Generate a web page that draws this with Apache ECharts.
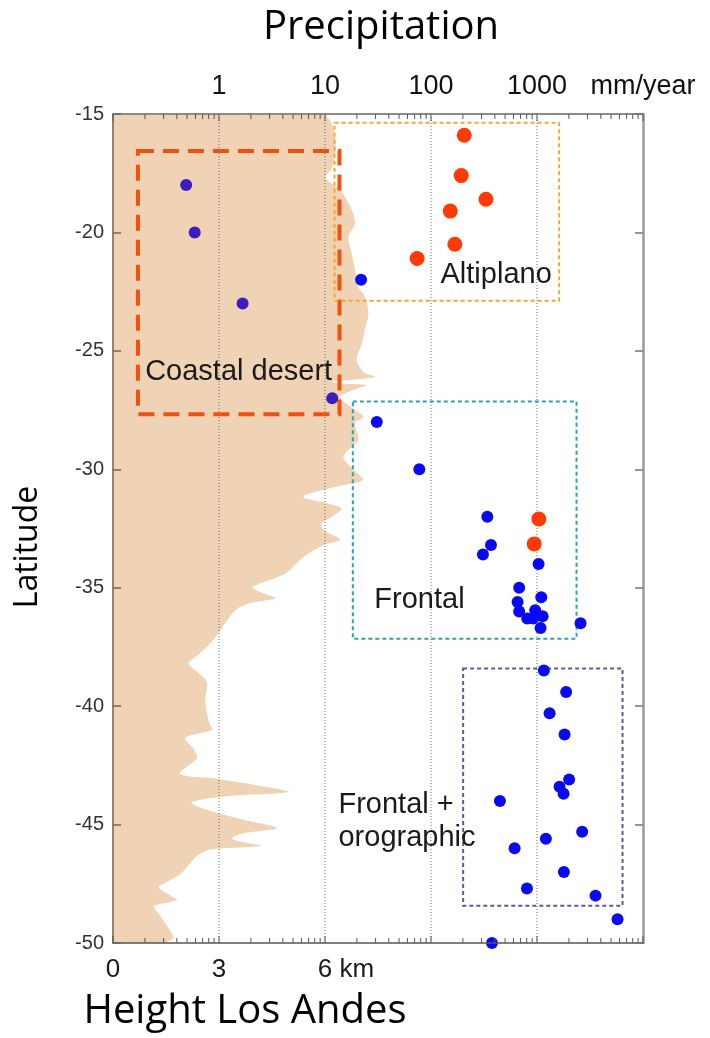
<!DOCTYPE html>
<html>
<head>
<meta charset="utf-8">
<script src="https://cdn.jsdelivr.net/npm/echarts@6/dist/echarts.min.js"></script>
<style>
  html, body { margin: 0; padding: 0; background: #ffffff; }
  #chart { width: 710px; height: 1038px; }
</style>
</head>
<body>
<div id="chart"></div>
<script>
// Crest height of the Andes (km) against latitude (deg)
const andesLat = [
  -15.0, -15.4, -16.0, -16.7, -17.3, -17.55, -17.7, -17.9, -18.2, -18.9,
  -19.6, -20.2, -20.9, -21.6, -22.3, -22.7, -23.4, -24.1, -24.7, -25.4,
  -25.9, -26.09, -26.2, -26.3, -26.38, -26.45, -26.6, -26.95, -27.35, -27.78,
  -28.05, -28.75, -29.47, -30.0, -30.45, -30.7, -31.15, -31.45, -31.66, -32.0,
  -32.3, -32.6, -32.98, -33.2, -33.7, -34.4, -34.85, -35.0, -35.2, -35.45,
  -35.65, -35.9, -36.45, -36.95, -37.5, -37.9, -38.2, -38.6, -39.0, -39.7,
  -40.3, -40.8, -41.0, -41.35, -41.8, -42.2, -42.85, -43.05, -43.4, -43.62,
  -43.8, -44.05, -44.3, -44.8, -45.15, -45.4, -45.6, -45.75, -45.9, -46.05,
  -46.3, -46.7, -47.1, -47.45, -47.65, -48.0, -48.18, -48.45, -48.85, -49.4,
  -49.8, -50.0
];
const andesKm = [
  6.03, 6.19, 6.29, 6.29, 6.19, 6.05, 6.02, 6.15, 6.43, 6.71,
  6.85, 6.66, 6.76, 6.85, 6.94, 7.13, 7.23, 7.13, 7.04, 6.9,
  7.1, 7.42, 6.95, 6.2, 6.5, 7.18, 6.9, 6.43, 6.71, 7.09,
  6.85, 6.94, 6.52, 6.8, 7.07, 6.43, 5.39, 6.1, 6.47, 6.2,
  5.89, 6.0, 6.43, 5.96, 5.39, 4.88, 4.1, 3.95, 4.2, 4.6,
  3.9, 3.5, 3.2, 2.97, 2.66, 2.35, 2.14, 2.42, 2.66, 2.61,
  2.66, 2.75, 2.82, 2.04, 2.28, 2.37, 1.9, 2.9, 4.3, 4.97,
  3.2, 2.23, 2.5, 3.7, 4.64, 3.6, 3.37, 3.7, 4.17, 2.75,
  2.4, 2.15, 1.9, 1.5, 1.3, 1.62, 1.81, 1.17, 1.34, 1.58,
  1.71, 1.5
];

// Station precipitation (mm/year) and latitude
const desertStations = [[0.49, -18.0], [0.59, -20.0], [1.67, -23.0], [11.7, -27.0]];
const blueStations = [
  [21.9, -22.0], [30.8, -28.0], [77.6, -30.0], [340, -32.0], [368, -33.2],
  [309, -33.6], [1035, -34.0], [679, -35.0], [1097, -35.4], [656, -35.6],
  [679, -36.0], [962, -35.95], [809, -36.3], [921, -36.3], [1130, -36.2],
  [1081, -36.7], [2576, -36.5],
  [1161, -38.5], [1883, -39.4], [1315, -40.3], [1820, -41.2], [2010, -43.1],
  [1633, -43.4], [1782, -43.7], [447, -44.0], [2667, -45.3], [1213, -45.6],
  [615, -46.0], [1794, -47.0], [804, -47.7], [3565, -48.0], [5754, -49.0],
  [376, -50.0]
];
const redStations = [
  [206, -15.9], [193, -17.6], [330, -18.6], [152, -19.1], [168, -20.5],
  [74, -21.1], [1042, -32.1], [942, -33.15]
];

// Climate regions: [precip left, precip right, lat top, lat bottom]
const desertBox = [0.172, 13.7, -16.56, -27.68];
const altiplanoBox = [12.3, 1618, -15.37, -22.88];
const frontalBox = [18.3, 2360, -27.14, -37.15];
const orographicBox = [201, 6412, -38.41, -48.43];

// Region names and their anchor (precip, lat)
const regionNames = ['Coastal desert', 'Altiplano', 'Frontal', 'Frontal +', 'orographic'];
const regionAnchors = [[0.201, -25.89], [123, -21.78], [29.2, -35.5], [13.4, -44.17], [13.4, -45.56]];

// Axis ticks
const decades = [0.1, 1, 10, 100, 1000, 10000];
const minorSteps = [2, 3, 4, 5, 6, 7, 8, 9];
const topLabels = { 0: '1', 1: '10', 2: '100', 3: '1000', 4: 'mm/year' };
const kmLabels = { 0: '0', 3: '3', 6: '{g| km}6 km' };

const tickValues = [];
decades.forEach(d => {
  tickValues.push([d, 1]);
  if (d < 10000) minorSteps.forEach(m => tickValues.push([d * m, 0]));
});

const chart = echarts.init(document.getElementById('chart'), null, { renderer: 'canvas' });

function boxSeries(box, stroke, width, dash, z) {
  return {
    type: 'custom', xAxisIndex: 0, yAxisIndex: 0, z: z, silent: true,
    data: [box],
    renderItem: function (params, api) {
      const p1 = api.coord([api.value(0), api.value(2)]);
      const p2 = api.coord([api.value(1), api.value(3)]);
      return {
        type: 'rect',
        shape: { x: p1[0], y: p1[1], width: p2[0] - p1[0], height: p2[1] - p1[1] },
        style: { fill: 'none', stroke: stroke, lineWidth: width, lineDash: dash }
      };
    }
  };
}

const option = {
  animation: false,
  backgroundColor: '#ffffff',
  grid: { left: 113, right: 67, top: 114, bottom: 95, containLabel: false },
  xAxis: [
    {
      type: 'log', logBase: 10, min: 0.1, max: 10000, position: 'top', z: 10,
      axisLine: { show: true, lineStyle: { color: '#8c8c8c', width: 2 } },
      axisTick: { show: false },
      splitLine: { show: false },
      axisLabel: {
        show: true, margin: 14, color: '#111',
        fontFamily: '"Liberation Sans", Arial, sans-serif', fontSize: 27,
        showMinLabel: true, showMaxLabel: true,
        formatter: v => topLabels[Math.round(Math.log10(v))] || ''
      }
    },
    {
      type: 'value', min: 0, max: 15, interval: 3, position: 'bottom', z: 10,
      axisLine: { show: true, lineStyle: { color: '#555', width: 1.5 } },
      axisTick: { show: false },
      splitLine: { show: false },
      axisLabel: {
        show: true, margin: 14, color: '#1a1a1a',
        fontFamily: '"Liberation Sans", Arial, sans-serif', fontSize: 26,
        formatter: v => kmLabels[Math.round(v)] || '',
        rich: { g: { color: 'rgba(0,0,0,0)', fontFamily: '"Liberation Sans", Arial, sans-serif', fontSize: 26 } }
      }
    }
  ],
  yAxis: [
    {
      type: 'value', min: -50, max: -15, interval: 5, position: 'left', z: 10,
      axisLine: { show: true, lineStyle: { color: '#7a5e48', width: 1.5 } },
      axisTick: { show: true, inside: true, length: 8, lineStyle: { color: '#666', width: 1.5 } },
      splitLine: { show: false },
      axisLabel: { margin: 9, color: '#333', fontFamily: '"Liberation Sans", Arial, sans-serif', fontSize: 20 }
    },
    {
      type: 'value', min: -50, max: -15, interval: 5, position: 'right', z: 10,
      axisLine: { show: true, lineStyle: { color: '#9a9a9a', width: 2.5 } },
      axisTick: { show: true, inside: true, length: 8, lineStyle: { color: '#777', width: 1.5 } },
      splitLine: { show: false },
      axisLabel: { show: false }
    }
  ],
  graphic: [
    {
      type: 'text', x: 381, y: 28, z: 20,
      style: { text: 'Precipitation', fill: '#000', font: '40px "Open Sans", sans-serif',
        align: 'center', verticalAlign: 'middle', textAlign: 'center', textVerticalAlign: 'middle' }
    },
    {
      type: 'text', x: 245, y: 1012, z: 20,
      style: { text: 'Height Los Andes', fill: '#000', font: '40px "Open Sans", sans-serif',
        align: 'center', verticalAlign: 'middle', textAlign: 'center', textVerticalAlign: 'middle' }
    },
    {
      type: 'text', x: 28, y: 547, rotation: Math.PI / 2, z: 20,
      style: { text: 'Latitude', fill: '#000', font: '32px "Open Sans", sans-serif',
        align: 'center', verticalAlign: 'middle', textAlign: 'center', textVerticalAlign: 'middle' }
    }
  ],
  series: [
    // Andes height profile (filled, smoothed outline)
    {
      type: 'custom', xAxisIndex: 1, yAxisIndex: 0, z: 1, silent: true, clip: true,
      data: [[0, -15]],
      renderItem: function (params, api) {
        const n = andesLat.length;
        const pts = [api.coord([andesKm[0], -14])];
        andesLat.forEach((lat, i) => pts.push(api.coord([andesKm[i], lat])));
        pts.push(api.coord([andesKm[n - 1], -51]));
        pts.push(api.coord([-2, -51]));
        pts.push(api.coord([-2, -14]));
        return { type: 'polygon', shape: { points: pts, smooth: 0.3 }, style: { fill: '#f0d2b4', stroke: 'none' } };
      }
    },
    // Decade grid lines
    {
      type: 'custom', xAxisIndex: 0, yAxisIndex: 0, z: 2, silent: true,
      data: [1, 10, 100, 1000].map(v => [v]),
      renderItem: function (params, api) {
        const a = api.coord([api.value(0), -15]);
        const b = api.coord([api.value(0), -50]);
        return { type: 'line', shape: { x1: a[0], y1: a[1], x2: b[0], y2: b[1] },
          style: { stroke: '#6a6a6a', lineWidth: 1, lineDash: [1, 2] } };
      }
    },
    // Log ticks on top and bottom frame
    {
      type: 'custom', xAxisIndex: 0, yAxisIndex: 0, z: 12, silent: true, clip: false,
      data: tickValues,
      renderItem: function (params, api) {
        const len = api.value(1) ? 7 : 5;
        const t = api.coord([api.value(0), -15]);
        const b = api.coord([api.value(0), -50]);
        return {
          type: 'group',
          children: [
            { type: 'line', shape: { x1: t[0], y1: t[1], x2: t[0], y2: t[1] + len }, style: { stroke: '#555', lineWidth: 1 } },
            { type: 'line', shape: { x1: b[0], y1: b[1], x2: b[0], y2: b[1] - len }, style: { stroke: '#555', lineWidth: 1 } }
          ]
        };
      }
    },
    boxSeries(desertBox, '#f2500e', 4, [16, 9], 3),
    boxSeries(altiplanoBox, '#f7a634', 2, [4, 3], 3),
    boxSeries(frontalBox, '#2ea3a8', 2, [4, 3], 3),
    boxSeries(orographicBox, '#5a58a8', 2, [4, 3], 3),
    {
      type: 'scatter', xAxisIndex: 0, yAxisIndex: 0, z: 5, clip: false,
      symbol: 'circle', symbolSize: 12, data: desertStations,
      itemStyle: { color: '#3a1cc0', opacity: 1 }
    },
    {
      type: 'scatter', xAxisIndex: 0, yAxisIndex: 0, z: 5, clip: false,
      symbol: 'circle', symbolSize: 12, data: blueStations,
      itemStyle: { color: '#0a0af2', opacity: 1 }
    },
    {
      type: 'scatter', xAxisIndex: 0, yAxisIndex: 0, z: 5, clip: false,
      symbol: 'circle', symbolSize: 15, data: redStations,
      itemStyle: { color: '#ff3a05', opacity: 1 }
    },
    // Region names
    {
      type: 'custom', xAxisIndex: 0, yAxisIndex: 0, z: 6, silent: true, clip: false,
      data: regionAnchors,
      renderItem: function (params, api) {
        const p = api.coord([api.value(0), api.value(1)]);
        return {
          type: 'text', x: p[0], y: p[1],
          style: { text: regionNames[params.dataIndex], fill: '#1a1a1a',
            font: '29px "Liberation Sans", Arial, sans-serif',
            align: 'left', verticalAlign: 'middle' }
        };
      }
    }
  ]
};

chart.setOption(option);
</script>
</body>
</html>
